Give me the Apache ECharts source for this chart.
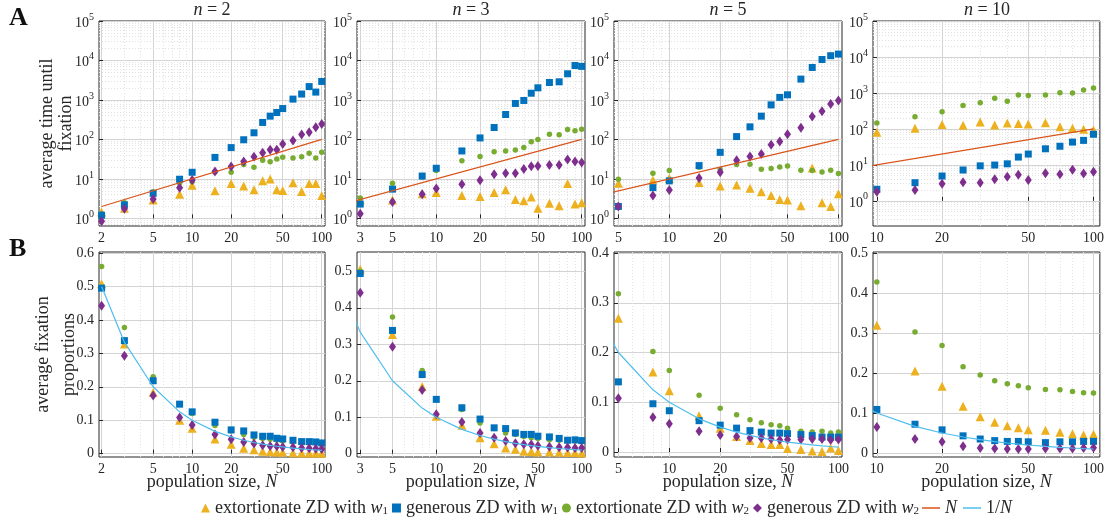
<!DOCTYPE html>
<html><head><meta charset="utf-8">
<script src="https://cdn.jsdelivr.net/npm/echarts@6/dist/echarts.min.js"></script>
<style>html,body{margin:0;padding:0;background:#fff}#c{width:1107px;height:519px}</style>
</head><body><div id="c"></div>
<script>
// ---------- categories (population sizes) ----------
const N_n2  = [2,3,5,8,10,15,20,25,30,35,40,45,50,60,70,80,90,100];
const N_n3  = [3,5,8,10,15,20,25,30,35,40,45,50,60,70,80,90,100];
const N_n5  = [5,8,10,15,20,25,30,35,40,45,50,60,70,80,90,100];
const N_n10 = [10,15,20,25,30,35,40,45,50,60,70,80,90,100];

// ---------- tick labels ----------
const xTicks_n2  = [2,5,10,20,50,100];
const xTicks_n3  = [3,5,10,20,50,100];
const xTicks_n5  = [5,10,20,50,100];
const xTicks_n10 = [10,20,50,100];
const yTicksTime = [1,10,100,1000,10000,100000];
const yTicksProp_n2  = [0,0.1,0.2,0.3,0.4,0.5,0.6];
const yTicksProp_n3  = [0,0.1,0.2,0.3,0.4,0.5];
const yTicksProp_n5  = [0,0.1,0.2,0.3,0.4];
const yTicksProp_n10 = [0,0.1,0.2,0.3,0.4,0.5];

// ---------- row A: average time until fixation ----------
const timeExt1_n2 = [1.45,1.8,2.9,4.1,6.9,5.0,7.6,6.6,5.3,9.0,10,5.3,5.1,8.0,4.8,7.6,7.6,3.8];
const timeGen1_n2 = [1.2,2.2,4.3,9.8,14.7,35,62,98,147,269,388,480,605,1050,1410,2180,1580,2940];
const timeExt2_n2 = [1.3,2.5,4.7,7.9,8.5,15,14.7,23,19.7,29.6,27,32,35.5,34,36.6,44.6,34,47];
const timeGen2_n2 = [0.85,1.75,3.1,6.0,9.4,15.3,20.5,27.5,36.6,46,55,55,77,94,133,152,204,244];

const timeExt1_n3 = [2.9,2.9,4.2,4.5,3.8,3.6,4.5,5.3,3.0,2.8,3.5,1.8,2.4,2.1,7.6,2.3,2.5];
const timeGen1_n3 = [2.3,5.5,11.8,18.6,51,109,200,427,814,970,1480,2030,2770,2880,4600,7450,7080];
const timeExt2_n3 = [3.3,7.7,11.2,16.2,29,37,49,51,54,62,87,100,135,131,178,165,182];
const timeGen2_n3 = [1.3,2.6,4.1,5.7,7.3,9.2,13.1,13.8,13.8,17.9,20.9,21.3,22.5,22.5,30.9,27.5,25.9];

const timeExt1_n5 = [7.7,9.4,10.4,8.1,6.6,7.0,5.8,4.7,3.8,3.0,2.9,2.1,19,2.5,2.0,4.2];
const timeGen1_n5 = [2.0,6.0,8.9,21.7,47,118,208,388,750,1160,1350,3370,6650,10600,13200,14500];
const timeExt2_n5 = [9.8,13.9,16.2,19.7,17.3,23,23.5,17.5,18.2,20,21.3,16.5,16.2,15,16.5,13.6];
const timeGen2_n5 = [2.0,3.8,5.2,10.6,14.7,29.7,37,43,73,89,135,196,380,520,785,970];

const timeExt1_n10 = [81,104,132,126,155,129,147,141,138,149,115,104,98,93];
const timeGen1_n10 = [2.1,3.2,4.9,7.2,9.4,9.9,10.7,16.5,20,28,33,43,48,71];
const timeExt2_n10 = [147,219,302,447,537,708,589,870,851,870,1020,1000,1200,1380];
const timeGen2_n10 = [1.8,2.0,3.0,3.3,3.2,4.0,4.7,5.3,3.8,5.9,5.5,7.3,5.8,6.4];

// ---------- row B: average fixation proportions ----------
const propExt1_n2 = [0.508,0.328,0.183,0.100,0.076,0.044,0.028,0.016,0.012,0.007,0.006,0.005,0.004,0.003,0.002,0.002,0.002,0.001];
const propGen1_n2 = [0.495,0.338,0.218,0.148,0.125,0.094,0.071,0.068,0.056,0.052,0.052,0.046,0.044,0.040,0.036,0.036,0.035,0.032];
const propExt2_n2 = [0.56,0.377,0.23,0.148,0.12,0.084,0.068,0.057,0.049,0.045,0.043,0.041,0.038,0.035,0.035,0.034,0.032,0.033];
const propGen2_n2 = [0.442,0.293,0.174,0.108,0.086,0.057,0.043,0.035,0.030,0.025,0.023,0.022,0.020,0.019,0.017,0.016,0.015,0.014];

const propExt1_n3 = [0.506,0.327,0.184,0.103,0.078,0.044,0.027,0.016,0.012,0.007,0.006,0.005,0.005,0.004,0.003,0.003,0.002];
const propGen1_n3 = [0.494,0.338,0.217,0.149,0.126,0.095,0.071,0.069,0.057,0.053,0.053,0.048,0.046,0.042,0.037,0.038,0.036];
const propExt2_n3 = [0.50,0.375,0.228,0.148,0.121,0.084,0.069,0.057,0.053,0.047,0.044,0.042,0.038,0.037,0.035,0.035,0.034];
const propGen2_n3 = [0.441,0.293,0.175,0.108,0.087,0.057,0.044,0.035,0.029,0.026,0.025,0.022,0.019,0.018,0.017,0.016,0.016];

const propExt1_n5 = [0.269,0.161,0.123,0.073,0.048,0.031,0.023,0.017,0.015,0.015,0.007,0.005,0.002,0.001,0.008,0.003];
const propGen1_n5 = [0.141,0.097,0.083,0.063,0.054,0.048,0.043,0.040,0.038,0.038,0.037,0.035,0.033,0.030,0.030,0.030];
const propExt2_n5 = [0.318,0.202,0.164,0.114,0.088,0.075,0.065,0.059,0.055,0.053,0.048,0.042,0.040,0.042,0.038,0.040];
const propGen2_n5 = [0.108,0.070,0.057,0.042,0.034,0.031,0.028,0.028,0.026,0.024,0.025,0.025,0.026,0.026,0.024,0.025];

const propExt1_n10 = [0.32,0.205,0.167,0.117,0.091,0.077,0.068,0.063,0.058,0.057,0.052,0.048,0.045,0.047];
const propGen1_n10 = [0.109,0.072,0.058,0.043,0.035,0.031,0.029,0.029,0.028,0.026,0.028,0.028,0.029,0.029];
const propExt2_n10 = [0.428,0.303,0.269,0.216,0.195,0.181,0.173,0.168,0.163,0.159,0.158,0.154,0.151,0.150];
const propGen2_n10 = [0.065,0.035,0.028,0.017,0.0125,0.011,0.010,0.010,0.010,0.011,0.011,0.011,0.0125,0.013];

// ---------- reference lines ----------
const lineN_x = [2,100];
const lineN_y = [2,100];
const recipN_x = [2,3,5,8,10,15,20,25,30,35,40,45,50,60,70,80,90,100];
const recipN_y = [0.5,0.3333,0.2,0.125,0.1,0.0667,0.05,0.04,0.0333,0.0286,0.025,0.0222,0.02,0.0167,0.0143,0.0125,0.0111,0.01];

// ---------- styling / layout ----------
const FONT = 'Liberation Serif';
const TXT = '#262626';
const COL = {ext1:'#EDB120', gen1:'#0072BD', ext2:'#77AC30', gen2:'#7E2F8E', lineN:'#D95319', recip:'#4DBEEE'};
const SYM = {ext1:'triangle', gen1:'rect', ext2:'circle', gen2:'diamond'};
const SSZ = {ext1:9, gen1:7, ext2:5.5, gen2:[7,10]};
const colLeft = [99,357,614,873];
const colWidth = [226,228,228,228];
const rowTop = [21,252];
const rowH = 205;

const panels = [
  {n:2,  N:N_n2,  xr:[1.91,106],  xt:xTicks_n2,  tMin:0.64,
   time:{ext1:timeExt1_n2,gen1:timeGen1_n2,ext2:timeExt2_n2,gen2:timeGen2_n2},
   prop:{ext1:propExt1_n2,gen1:propGen1_n2,ext2:propExt2_n2,gen2:propGen2_n2}, pr:[-0.01,0.603], pt:yTicksProp_n2},
  {n:3,  N:N_n3,  xr:[2.85,105.4], xt:xTicks_n3, tMin:0.64,
   time:{ext1:timeExt1_n3,gen1:timeGen1_n3,ext2:timeExt2_n3,gen2:timeGen2_n3},
   prop:{ext1:propExt1_n3,gen1:propGen1_n3,ext2:propExt2_n3,gen2:propGen2_n3}, pr:[-0.009,0.553], pt:yTicksProp_n3},
  {n:5,  N:N_n5,  xr:[4.71,105],  xt:xTicks_n5,  tMin:0.64,
   time:{ext1:timeExt1_n5,gen1:timeGen1_n5,ext2:timeExt2_n5,gen2:timeGen2_n5},
   prop:{ext1:propExt1_n5,gen1:propGen1_n5,ext2:propExt2_n5,gen2:propGen2_n5}, pr:[-0.01,0.402], pt:yTicksProp_n5},
  {n:10, N:N_n10, xr:[9.6,107],   xt:xTicks_n10, tMin:0.2,
   time:{ext1:timeExt1_n10,gen1:timeGen1_n10,ext2:timeExt2_n10,gen2:timeGen2_n10},
   prop:{ext1:propExt1_n10,gen1:propGen1_n10,ext2:propExt2_n10,gen2:propGen2_n10}, pr:[-0.01,0.503], pt:yTicksProp_n10}
];

const L = Math.log10;
function minorLog(lo, hi, skip) {
  const out = [];
  for (let e = -2; e <= 5; e++) for (let m = 1; m <= 9; m++) {
    const v = m * Math.pow(10, e);
    if (v > lo && v < hi && !skip.includes(v)) out.push(L(v));
  }
  return out;
}

const grids = [], xAxes = [], yAxes = [], series = [];
const labelStyle = {fontFamily: FONT, fontSize: 14, color: TXT};

panels.forEach((p, c) => {
  for (let r = 0; r < 2; r++) {
    const g = grids.length;
    grids.push({left: colLeft[c], top: rowTop[r], width: colWidth[c], height: rowH,
      show: true, borderColor: TXT, borderWidth: 1, backgroundColor: 'transparent', containLabel: false});
    const xMin = L(p.xr[0]), xMax = L(p.xr[1]);
    const xi = xAxes.length;
    xAxes.push({type: 'value', gridIndex: g, min: xMin, max: xMax, position: 'bottom',
      axisLine: {show: false},
      axisTick: {show: true, inside: true, length: 4, lineStyle: {color: TXT}, customValues: p.xt.map(L)},
      axisLabel: Object.assign({customValues: p.xt.map(L), margin: 5,
        formatter: v => String(Math.round(Math.pow(10, v)))}, labelStyle),
      splitLine: {show: true, lineStyle: {color: '#d4d4d4', width: 1}},
      name: r === 1 ? '{a|population size, }{i|N}' : '', nameLocation: 'middle', nameGap: 16, nameMoveOverlap: false,
      nameTextStyle: {rich: {a: {fontFamily: FONT, fontSize: 18, color: TXT}, i: {fontFamily: FONT, fontSize: 18, fontStyle: 'italic', color: TXT}}}
    });
    xAxes.push({type: 'value', gridIndex: g, min: xMin, max: xMax, position: 'top',
      axisLine: {show: false}, axisLabel: {show: false},
      axisTick: {show: false, customValues: minorLog(p.xr[0], p.xr[1], p.xt)},
      splitLine: {show: true, lineStyle: {color: '#e2e2e2', width: 1, type: [1, 2]}}
    });
    const yi = yAxes.length;
    if (r === 0) {
      const yMin = L(p.tMin), yMax = 5;
      yAxes.push({type: 'value', gridIndex: g, min: yMin, max: yMax,
        axisLine: {show: false},
        axisTick: {show: true, inside: true, length: 4, lineStyle: {color: TXT}, customValues: yTicksTime.map(L)},
        axisLabel: {customValues: yTicksTime.map(L), margin: 5,
          formatter: v => '{b|10}{s|' + Math.round(v) + '}',
          rich: {b: {fontFamily: FONT, fontSize: 14, color: TXT, lineHeight: 18, verticalAlign: 'bottom'},
                 s: {fontFamily: FONT, fontSize: 10, color: TXT, lineHeight: 18, verticalAlign: 'top'}}},
        splitLine: {show: true, lineStyle: {color: '#d4d4d4', width: 1}},
        name: c === 0 ? 'average time until\nfixation' : '', nameLocation: 'middle', nameGap: 23, nameMoveOverlap: false,
        nameTextStyle: {fontFamily: FONT, fontSize: 18, color: TXT, lineHeight: 19}
      });
      yAxes.push({type: 'value', gridIndex: g, min: yMin, max: yMax, position: 'right',
        axisLine: {show: false}, axisLabel: {show: false},
        axisTick: {show: false, customValues: minorLog(p.tMin, 1e5, yTicksTime)},
        splitLine: {show: true, lineStyle: {color: '#e2e2e2', width: 1, type: [1, 2]}}
      });
    } else {
      yAxes.push({type: 'value', gridIndex: g, min: p.pr[0], max: p.pr[1],
        axisLine: {show: false},
        axisTick: {show: true, inside: true, length: 4, lineStyle: {color: TXT}, customValues: p.pt},
        axisLabel: Object.assign({customValues: p.pt, margin: 5,
          formatter: v => (Math.round(v * 10) / 10).toString()}, labelStyle),
        splitLine: {show: true, lineStyle: {color: '#d4d4d4', width: 1}},
        name: c === 0 ? 'average fixation\nproportions' : '', nameLocation: 'middle', nameGap: 17, nameMoveOverlap: false,
        nameTextStyle: {fontFamily: FONT, fontSize: 18, color: TXT, lineHeight: 26}
      });
    }
    const src = r === 0 ? p.time : p.prop;
    ['ext1', 'ext2', 'gen1', 'gen2'].forEach(k => {
      series.push({type: 'scatter', name: k, xAxisIndex: xi, yAxisIndex: yi,
        symbol: SYM[k], symbolSize: SSZ[k], itemStyle: {color: COL[k], opacity: 1},
        data: p.N.map((nv, i) => [L(nv), r === 0 ? L(src[k][i]) : src[k][i]])});
    });
    if (r === 0) {
      series.push({type: 'line', name: 'lineN', xAxisIndex: xi, yAxisIndex: yi, symbol: 'none', clip: true,
        lineStyle: {color: COL.lineN, width: 1.2}, itemStyle: {color: COL.lineN},
        data: lineN_x.map((v, i) => [L(v), L(lineN_y[i])])});
    } else {
      series.push({type: 'line', name: 'recip', xAxisIndex: xi, yAxisIndex: yi, symbol: 'none', clip: true,
        lineStyle: {color: COL.recip, width: 1.2}, itemStyle: {color: COL.recip},
        data: recipN_x.map((v, i) => [L(v), recipN_y[i]])});
    }
  }
});

const legRich = {
  t: {fontFamily: FONT, fontSize: 18, color: TXT},
  i: {fontFamily: FONT, fontSize: 18, fontStyle: 'italic', color: TXT},
  s: {fontFamily: FONT, fontSize: 11, color: TXT, verticalAlign: 'bottom', lineHeight: 14, padding: [7, 0, 0, 0]}
};
const legText = {
  ext1: '{t|extortionate ZD with }{i|w}{s|1}',
  gen1: '{t|generous ZD with }{i|w}{s|1}',
  ext2: '{t|extortionate ZD with }{i|w}{s|2}',
  gen2: '{t|generous ZD with }{i|w}{s|2}',
  lineN: '{i|N}',
  recip: '{t|1/}{i|N}'
};

const graphics = [
  {type: 'text', left: 9, top: 5, style: {text: 'A', font: 'bold 26px "Liberation Serif"', fill: '#111'}},
  {type: 'text', left: 9, top: 236, style: {text: 'B', font: 'bold 26px "Liberation Serif"', fill: '#111'}}
];
panels.forEach((p, c) => {
  graphics.push({type: 'text', x: colLeft[c] + colWidth[c] / 2, y: 1,
    style: {text: '{i|n}{t| = ' + p.n + '}', align: 'center',
      rich: {i: {fontFamily: FONT, fontSize: 18, fontStyle: 'italic', fill: TXT}, t: {fontFamily: FONT, fontSize: 18, fill: TXT}}}});
});

const chart = echarts.init(document.getElementById('c'), null, {renderer: 'canvas'});
chart.setOption({
  animation: false,
  backgroundColor: '#fff',
  grid: grids, xAxis: xAxes, yAxis: yAxes, series: series,
  graphic: graphics,
  legend: [
    {left: 196, top: 494, itemGap: 4, itemWidth: 9, itemHeight: 9,
     data: [{name: 'ext1', icon: 'triangle'}, {name: 'gen1', icon: 'rect'}, {name: 'ext2', icon: 'circle'}, {name: 'gen2', icon: 'diamond'}],
     formatter: n => legText[n], textStyle: {rich: legRich}, itemStyle: {borderWidth: 0}},
    {left: 917, top: 494, itemGap: 6, itemWidth: 18, itemHeight: 1.5,
     data: [{name: 'lineN', icon: 'rect'}, {name: 'recip', icon: 'rect'}],
     formatter: n => legText[n], textStyle: {rich: legRich}}
  ]
});
</script>
</body></html>
